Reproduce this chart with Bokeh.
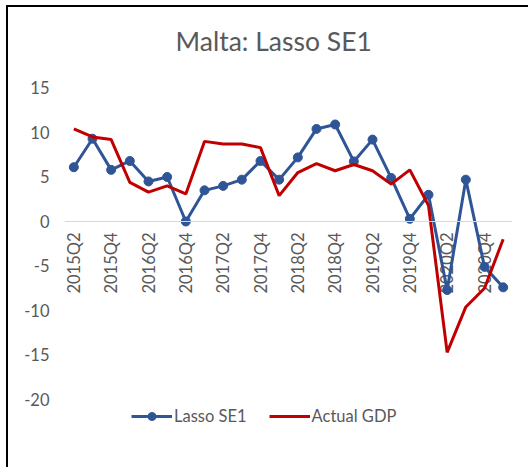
import math
from bokeh.plotting import figure
from bokeh.models import (Range1d, FixedTicker, Span, Legend, LegendItem, Title,
                          ColumnDataSource)
from bokeh.core.properties import value
from bokeh.embed import file_html
from bokeh.resources import INLINE

quarters = ["2015Q2", "2015Q3", "2015Q4", "2016Q1", "2016Q2", "2016Q3", "2016Q4",
            "2017Q1", "2017Q2", "2017Q3", "2017Q4", "2018Q1", "2018Q2", "2018Q3",
            "2018Q4", "2019Q1", "2019Q2", "2019Q3", "2019Q4", "2020Q1", "2020Q2",
            "2020Q3", "2020Q4", "2021Q1"]
lasso_se1 = [6.1, 9.3, 5.8, 6.8, 4.5, 5.0, 0.0, 3.5, 4.0, 4.7, 6.8, 4.7, 7.2, 10.4,
             10.9, 6.75, 9.2, 4.9, 0.3, 3.0, -7.7, 4.7, -5.1, -7.4]
actual_gdp = [10.4, 9.5, 9.2, 4.4, 3.3, 4.0, 3.1, 9.0, 8.7, 8.7, 8.3, 2.9, 5.5, 6.5,
              5.7, 6.4, 5.7, 4.2, 5.8, 1.8, -14.7, -9.6, -7.5, -2.0]
y_ticks = [-20, -15, -10, -5, 0, 5, 10, 15]
tick_labels = quarters[::2]

FONT = "Lato"
GREY = "#595959"
BLUE = "#2F5597"
RED = "#C00000"

xs = list(range(len(quarters)))
tick_x = [quarters.index(q) for q in tick_labels]

p = figure(width=528, height=467, output_backend="svg", toolbar_location=None,
           title=None, x_axis_type=None,
           x_range=Range1d(-0.5, len(quarters) - 0.5),
           y_range=Range1d(-27.64, 16.74),
           min_border_left=64, min_border_right=16, min_border_top=72,
           min_border_bottom=0)

# chart-area frame (left and top edges) drawn as CSS background behind a transparent canvas border
p.border_fill_alpha = 0
p.styles = {
    "background-color": "white",
    "background-image": "linear-gradient(black, black), linear-gradient(black, black)",
    "background-size": "2px 470px, 530px 2px",
    "background-position": "6px 5px, 6px 5px",
    "background-repeat": "no-repeat, no-repeat",
}

p.add_layout(Title(text="Malta: Lasso SE1", align="left", offset=111,
                   vertical_align="middle", standoff=30, text_font=FONT,
                   text_font_size="26.5px", text_font_style="normal",
                   text_color=GREY), "above")

p.outline_line_color = None
p.grid.visible = False
p.background_fill_color = "white"

yax = p.yaxis[0]
yax.ticker = FixedTicker(ticks=y_ticks)
yax.major_label_overrides = {t: str(t) for t in y_ticks}
yax.axis_line_color = None
yax.major_tick_line_color = None
yax.minor_tick_line_color = None
yax.major_tick_out = 0
yax.major_label_standoff = 15
yax.major_label_text_font = FONT
yax.major_label_text_font_size = "16.5px"
yax.major_label_text_color = GREY

p.add_layout(Span(location=0, dimension="width", line_color="#D9D9D9", line_width=1))

p.text(x=tick_x, y=[0] * len(tick_x), text=tick_labels, angle=math.pi / 2,
       text_align="right", text_baseline="middle", y_offset=11,
       text_font=value(FONT), text_font_size="16.5px", text_color=GREY)

src = ColumnDataSource(dict(x=xs, lasso=lasso_se1, gdp=actual_gdp))
l1 = p.line("x", "lasso", source=src, line_color=BLUE, line_width=3)
s1 = p.scatter("x", "lasso", source=src, size=9, color=BLUE)
l2 = p.line("x", "gdp", source=src, line_color=RED, line_width=3)

legend = Legend(items=[LegendItem(label="Lasso SE1", renderers=[l1, s1]),
                       LegendItem(label="Actual GDP", renderers=[l2])],
                orientation="horizontal", location=(67, 41),
                glyph_width=41, glyph_height=20, label_standoff=2, spacing=22,
                padding=0, margin=0, border_line_color=None,
                background_fill_alpha=0, label_text_font=FONT,
                label_text_font_size="16.5px", label_text_color=GREY,
                label_height=20)
p.add_layout(legend)

open("out.html", "w").write(file_html(p, INLINE))
